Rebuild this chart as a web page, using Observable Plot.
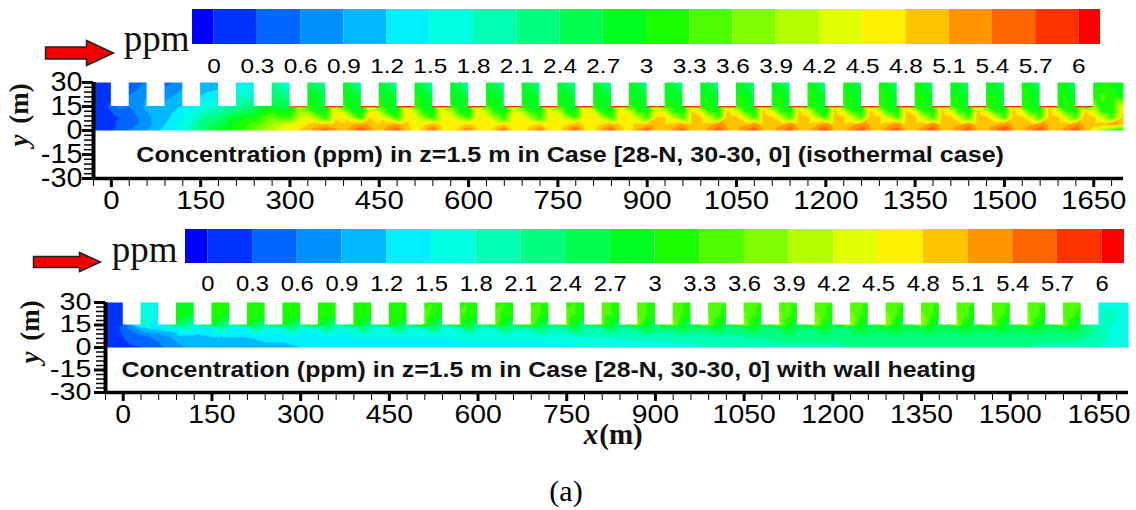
<!DOCTYPE html>
<html><head><meta charset="utf-8">
<script src="https://cdn.jsdelivr.net/npm/d3@7"></script>
<script src="https://cdn.jsdelivr.net/npm/@observablehq/plot@0.6"></script>
<style>
html,body{margin:0;padding:0;background:#fff}
#page{position:relative;width:1136px;height:510px;overflow:hidden}
#page svg{position:absolute;left:0;top:0;max-width:none}
#cap{position:absolute;left:0;width:1132px;top:474px;text-align:center;font:30px "Liberation Serif",serif}
</style></head><body><div id="page"><div id="cap">(a)</div></div>
<script>
// colour levels and band colours
const levels=[0,0.3,0.6,0.9,1.2,1.5,1.8,2.1,2.4,2.7,3,3.3,3.6,3.9,4.2,4.5,4.8,5.1,5.4,5.7,6];
const bandColors=["#0000ff","#0033ff","#0066ff","#0090ff","#00b8ff","#00f0ff","#00ffe0","#00ffb3","#00ff80","#00ff50","#00ff20","#19ff00","#4dff00","#80ff00","#b3ff00","#e0ff00","#fff000","#ffc400","#ff9500","#ff6600","#ff3300","#ff0000"];
const xMajor=[0,150,300,450,600,750,900,1050,1200,1350,1500,1650];
const yMajor=[-30,-15,0,15,30];
const streetStarts=d3.range(30,1620,60);
const buildingStarts=d3.range(0,1650,60);
// concentration along the building faces (x = 300 ... 1620), case 1
const wallValues=[5.5,5.7,5.8,5.8,5.8,5.8,5.8,5.8,5.8,5.8,5.8,5.8,5.8,5.8,5.8,5.8,5.8,5.8,5.8,5.8,5.8,5.8,5.8];

// Case 1 (isothermal): main-street rows, stations -30,-15,0,15,... ,1680,1700
const mainStations1=d3.range(-30,1690,15).concat(1700);
const iso_y0=[0,.1,.2,.5,
.6,.7,.9,1.1, 1.3,1.5,1.7,1.9, 2.3,2.5,2.7,2.9, 3.2,3.4,3.7,3.9, 4.2,4.4,4.6,4.8, 5.0,5.3,5.6,5.2, 4.9,5.3,5.7,5.2, 4.9,5.4,5.7,5.0, 4.6,5.0,5.5,4.8, 4.6,5.0,5.4,4.8, 4.5,5.1,5.5,4.7, 4.6,5.0,5.5,4.8, 4.6,5.1,5.6,4.8, 4.7,5.2,5.6,4.9, 4.7,5.2,5.6,4.9, 4.8,5.3,5.6,5.0, 4.9,5.3,5.7,5.1, 5.0,5.4,5.7,5.1, 5.0,5.3,5.7,5.1, 5.0,5.4,5.8,5.1, 5.0,5.4,5.7,5.1, 5.0,5.4,5.7,5.0, 5.0,5.4,5.8,5.1, 5.0,5.4,5.7,5.1, 5.0,5.4,5.8,5.1, 5.0,5.4,5.7,5.1, 5.0,5.4,5.7,5.0,
4.6,3.8,3.2,3.0];
const iso_y4=[0,.1,.2,.4,
.5,.6,.8,1.0, 1.2,1.4,1.6,1.8, 2.2,2.4,2.6,2.8, 3.0,3.2,3.4,3.7, 3.9,4.1,4.3,4.6, 4.8,4.9,5.0,4.9, 4.8,5.0,5.1,5.0, 4.8,5.0,5.1,4.9, 4.6,4.7,4.9,4.7, 4.5,4.6,4.8,4.6, 4.5,4.6,4.8,4.6, 4.5,4.7,4.8,4.6, 4.5,4.7,4.9,4.7, 4.6,4.8,5.0,4.8, 4.7,4.9,5.0,4.9, 4.8,4.9,5.1,4.9, 4.9,5.0,5.2,5.0, 4.9,5.0,5.2,5.0, 4.9,5.0,5.2,5.0, 4.9,5.0,5.2,5.0, 4.9,5.0,5.2,5.0, 4.9,5.0,5.2,5.0, 4.9,5.0,5.2,5.0, 4.9,5.0,5.2,5.0, 4.9,5.0,5.2,5.0, 4.9,5.0,5.2,5.0, 4.9,5.0,5.2,5.0, 4.9,5.0,5.2,5.0,
4.4,3.6,3.1,3.0];
const iso_y8=[0,.1,.2,.3,
.4,.6,.8,1.0, 1.1,1.3,1.5,1.7, 2.0,2.2,2.3,2.6, 2.8,3.0,3.0,3.4, 3.6,3.4,3.3,4.2, 4.4,3.8,3.2,4.7, 4.7,4.0,3.2,4.8, 4.7,4.0,3.2,4.7, 4.5,3.9,3.2,4.6, 4.5,3.9,3.2,4.6, 4.5,3.9,3.2,4.6, 4.5,3.9,3.2,4.6, 4.6,4.0,3.3,4.7, 4.7,4.0,3.3,4.8, 4.8,4.1,3.3,4.8, 4.8,4.1,3.3,4.9, 4.9,4.2,3.3,5.0, 4.9,4.2,3.3,5.0, 4.9,4.2,3.3,5.0, 4.9,4.2,3.3,5.0, 4.9,4.2,3.3,5.0, 4.9,4.2,3.3,5.0, 4.9,4.2,3.3,5.0, 4.9,4.2,3.3,5.0, 4.9,4.2,3.3,5.0, 4.9,4.2,3.3,5.0, 4.9,4.2,3.3,5.0, 4.9,4.2,3.3,5.0,
4.2,3.4,3.1,3.0];
const iso_y12=[0,.1,.3,.5,
.5,.7,.9,1.0, 1.0,1.2,1.4,1.6, 1.8,1.9,2.0,2.2, 2.4,2.5,2.6,3.0, 3.2,2.9,2.9,3.9, 3.8,3.0,2.9,4.6, 4.1,3.1,2.9,4.7, 4.1,3.1,3.0,4.7, 4.1,3.1,3.0,4.5, 4.1,3.1,3.0,4.5, 4.1,3.1,3.0,4.5, 4.1,3.1,3.0,4.5, 4.2,3.1,3.0,4.6, 4.3,3.1,3.0,4.7, 4.3,3.2,3.0,4.8, 4.3,3.2,3.0,4.8, 4.4,3.2,3.0,4.9, 4.4,3.2,3.0,4.9, 4.4,3.2,3.0,4.9, 4.4,3.2,3.0,4.9, 4.4,3.2,3.0,4.9, 4.4,3.2,3.0,4.9, 4.4,3.2,3.0,4.9, 4.4,3.2,3.0,4.9, 4.4,3.2,3.0,4.9, 4.4,3.2,3.0,4.9, 4.4,3.2,3.0,4.9, 4.4,3.2,3.0,4.8,
3.8,3.3,3.1,3.0];
const iso_y15=[0,.1,.5,.7,
.6,.8,1.0,1.0, 1.0,1.1,1.2,1.4, 1.6,1.7,1.8,2.0, 2.1,2.2,2.4,2.8, 2.8,2.6,2.6,3.8, 3.2,2.8,2.7,4.5, 3.3,2.9,2.7,4.7, 3.3,2.9,2.7,4.7, 3.3,2.9,2.7,4.7, 3.3,2.9,2.7,4.7, 3.3,2.9,2.8,4.7, 3.3,2.9,2.8,4.7, 3.3,2.9,2.8,4.7, 3.3,2.9,2.8,4.8, 3.3,2.9,2.9,4.8, 3.3,3.0,2.9,4.8, 3.3,3.0,2.9,4.8, 3.3,3.0,2.9,4.8, 3.3,3.0,2.9,4.8, 3.3,3.0,2.9,4.8, 3.3,3.0,2.9,4.8, 3.3,3.0,2.9,4.8, 3.3,3.0,2.9,4.8, 3.3,3.0,2.9,4.8, 3.3,3.0,2.9,4.8, 3.3,3.0,2.9,4.8,
3.3,3.2,3.1,3.0];
// Case 1: side-street rows, stations in the street openings only
const sideStations=[-30,-15,0,...streetStarts.flatMap(s=>[s,s+15,s+30]),1650,1665,1680,1700];
const iso_y22=[0,0,.1,
.6,.7,.9, .8,.9,1.1, 1.2,1.3,1.4, 1.7,1.8,1.9, 2.4,2.3,2.2, 2.9,2.8,2.5, 3.0,2.9,2.6, 3.0,2.9,2.6, 3.0,2.9,2.6, 3.0,2.9,2.6, 3.0,2.9,2.6, 3.0,2.9,2.6, 3.0,2.9,2.6, 3.0,2.9,2.6, 3.0,2.9,2.7, 3.0,2.9,2.7, 3.0,2.9,2.7, 3.0,3.0,2.7, 3.0,3.0,2.7, 3.0,3.0,2.7, 3.0,3.0,2.7, 3.0,3.0,2.7, 3.0,3.0,2.7, 3.0,3.0,2.7, 3.0,3.0,2.7, 3.0,3.0,2.7, 3.0,3.0,2.7,
3.1,3.4,3.1,2.9];
const iso_y30=[0,0,0,
.4,.5,.6, .5,.6,.7, .9,1.0,1.0, 1.4,1.5,1.3, 2.2,1.9,1.5, 2.7,2.3,1.8, 2.8,2.4,1.9, 2.8,2.4,1.9, 2.8,2.4,1.9, 2.8,2.4,1.9, 2.8,2.4,1.9, 2.8,2.4,2.0, 2.8,2.4,2.0, 2.8,2.5,2.0, 2.9,2.5,2.0, 2.9,2.5,2.1, 2.9,2.5,2.1, 2.9,2.6,2.1, 3.0,2.6,2.1, 3.0,2.6,2.2, 3.0,2.7,2.2, 3.0,2.7,2.2, 3.0,2.7,2.2, 3.0,2.7,2.2, 3.0,2.7,2.2, 3.0,2.7,2.2, 3.0,2.7,2.2,
2.9,3.0,3.0,2.8];

// Case 2 (wall heating): main-street rows every 30 m
const mainStations2=d3.range(-30,1680,30).concat(1700);
const heat_y0=[.1,.2,.3,.5,.8,1.0,1.0,1.0,1.1,1.1,1.1,1.2,1.3,1.3,1.3,1.3,1.3,1.3,1.4,1.4,1.4,1.4,1.4,1.4,1.4,1.4,1.4,1.5,1.5,1.5,1.6,1.6,1.7,1.7,1.8,1.8,1.8,1.9,2.0,2.0,2.0,2.0,2.1,2.1,2.1,2.1,2.1,2.1,2.1,2.1,2.1,2.1,2.1,2.0,2.0,1.9,1.8,1.6];
const heat_y7=[.1,.3,.5,.7,1.0,1.1,1.2,1.2,1.2,1.3,1.3,1.4,1.4,1.4,1.5,1.5,1.5,1.5,1.5,1.5,1.6,1.6,1.6,1.6,1.6,1.7,1.7,1.8,1.8,1.8,1.9,1.9,1.9,2.0,2.0,2.0,2.1,2.1,2.2,2.2,2.2,2.2,2.3,2.3,2.3,2.3,2.3,2.3,2.3,2.3,2.3,2.3,2.3,2.2,2.2,2.2,1.9,1.6];
const heat_y13=[.2,.5,1.1,1.3,1.4,1.4,1.5,1.5,1.5,1.6,1.6,1.6,1.6,1.6,1.6,1.7,1.7,1.7,1.7,1.7,1.8,1.8,1.8,1.9,2.0,2.0,2.0,2.0,2.1,2.1,2.2,2.2,2.3,2.3,2.3,2.3,2.4,2.4,2.4,2.4,2.4,2.4,2.4,2.5,2.5,2.5,2.5,2.5,2.5,2.5,2.5,2.5,2.5,2.5,2.5,2.4,2.0,1.6];
// Case 2: side-street rows
const heat_y15=[.1,.1,.3,
1.9,1.5,1.3, 2.6,2.2,1.9, 2.8,2.4,2.0, 3.0,2.5,2.2, 3.0,2.5,2.2, 3.1,2.5,2.2, 3.2,2.6,2.2, 3.3,2.6,2.2, 3.3,2.6,2.2, 3.4,2.7,2.3, 3.4,2.7,2.3, 3.5,2.7,2.3, 3.5,2.8,2.3, 3.6,2.8,2.4, 3.7,2.9,2.4, 3.7,2.9,2.4, 3.8,3.0,2.5, 3.9,3.0,2.5, 3.9,3.0,2.5, 3.9,3.0,2.5, 3.9,3.0,2.5, 3.9,3.0,2.5, 3.9,3.0,2.5, 3.9,3.0,2.5, 3.9,3.0,2.5, 3.9,3.0,2.5, 3.8,3.0,2.5,
1.7,1.9,1.6,1.5];
const heat_y22=[.1,.1,.1,
1.7,1.6,1.4, 3.1,2.9,2.7, 3.1,3.1,2.9, 3.3,3.2,3.0, 3.3,3.2,3.0, 3.3,3.2,3.0, 3.3,3.2,3.0, 3.3,3.2,3.0, 3.4,3.2,3.0, 3.4,3.2,3.0, 3.4,3.2,3.0, 3.5,3.3,3.0, 3.5,3.3,3.0, 3.5,3.3,3.0, 3.6,3.3,3.1, 3.6,3.3,3.1, 3.6,3.4,3.1, 3.7,3.4,3.1, 3.7,3.4,3.1, 3.7,3.4,3.1, 3.7,3.4,3.1, 3.7,3.4,3.1, 3.7,3.4,3.1, 3.7,3.4,3.1, 3.7,3.4,3.1, 3.7,3.4,3.1, 3.6,3.4,3.1,
1.6,2.0,1.8,1.5];
const heat_y30=[0,0,.1,
1.6,1.5,1.4, 2.9,2.9,2.8, 3.1,3.1,3.0, 3.2,3.3,3.2, 3.2,3.3,3.2, 3.2,3.3,3.2, 3.2,3.3,3.2, 3.2,3.3,3.2, 3.2,3.3,3.2, 3.2,3.3,3.2, 3.2,3.3,3.2, 3.2,3.3,3.2, 3.2,3.3,3.2, 3.3,3.3,3.2, 3.3,3.3,3.2, 3.3,3.3,3.2, 3.3,3.4,3.3, 3.3,3.4,3.3, 3.3,3.4,3.3, 3.3,3.4,3.3, 3.3,3.4,3.3, 3.3,3.4,3.3, 3.3,3.4,3.3, 3.3,3.4,3.3, 3.3,3.4,3.3, 3.3,3.4,3.3, 3.3,3.4,3.3,
1.6,1.6,1.5,1.5];

const caption1="Concentration (ppm) in z=1.5 m in Case [28-N, 30-30, 0] (isothermal case)";
const caption2="Concentration (ppm) in z=1.5 m in Case [28-N, 30-30, 0] with wall heating";

const SANS="Liberation Sans, Arial, sans-serif", SERIF="Liberation Serif, Times New Roman, serif";
const page=document.getElementById("page");
const rowsToPoints=(rows)=>rows.flatMap(([y,xs,vs])=>vs.map((v,i)=>({x:xs[i],y,v})));
const points1=rowsToPoints([[0,mainStations1,iso_y0],[4,mainStations1,iso_y4],[8,mainStations1,iso_y8],[12,mainStations1,iso_y12],[15,mainStations1,iso_y15],[22,sideStations,iso_y22],[30,sideStations,iso_y30]]);
const points2=rowsToPoints([[0,mainStations2,heat_y0],[7,mainStations2,heat_y7],[13,mainStations2,heat_y13],[15,sideStations,heat_y15],[22,sideStations,heat_y22],[30,sideStations,heat_y30]]);
const walls=wallValues.map((v,i)=>({x:buildingStarts[i+5],v}));

const bands=(lo,hi)=>{const e=[lo,...levels,hi];return bandColors.map((c,i)=>({a:e[i],b:e[i+1],c}));};
const arrow=(w,hs,hh,hl)=>({draw(c){const t=w/2,n=t-hl;c.moveTo(-t,-hs);c.lineTo(n,-hs);c.lineTo(n,-hh);c.lineTo(t,0);c.lineTo(n,hh);c.lineTo(n,hs);c.lineTo(-t,hs);c.closePath();}});
// widen the glyphs of a group of labels, as in the stretched original
const stretch=(svg,sel,f)=>svg.querySelectorAll(sel).forEach(t=>{const n=t.getComputedTextLength();if(n>0){t.setAttribute("textLength",n*f);t.setAttribute("lengthAdjust","spacingAndGlyphs");}});

function colorbar({left,right,top,bottom,lo,hi,tickPad,fontSize,labelStretch,ppmDx,ppmDy,arrowDx,arrowDy,arrowShape}){
  const svg=Plot.plot({
    width:1136,height:510,marginLeft:left,marginRight:1136-right,marginTop:top,marginBottom:510-bottom,
    style:{background:"transparent",overflow:"visible"},
    x:{domain:[lo,hi]},y:{axis:null},
    marks:[
      Plot.rectY(bands(lo,hi),{x1:"a",x2:"b",y1:0,y2:1,fill:"c"}),
      Plot.axisX(levels,{anchor:"bottom",tickSize:0,tickPadding:tickPad,tickFormat:String,fontSize,fontFamily:SANS,label:null}),
      Plot.text(["ppm"],{frameAnchor:"left",textAnchor:"end",dx:ppmDx,dy:ppmDy,fontSize:37,fontFamily:SERIF,fill:"#111"}),
      Plot.dot([0],{frameAnchor:"left",dx:arrowDx,dy:arrowDy,symbol:arrowShape,fill:"#f00000",stroke:"#222",strokeWidth:1.5})
    ]});
  page.append(svg);
  stretch(svg,'g[aria-label="x-axis tick label"] text',labelStretch);
}

function field({left,right,top,bottom,points,caption,capX,capStretch,labelDx,xTickPad,xFont,xStretch,yFont,yStretch,yPad,extra=[]}){
  const svg=Plot.plot({
    width:1136,height:510,marginLeft:left,marginRight:1136-right,marginTop:top,marginBottom:510-bottom,
    style:{background:"transparent",overflow:"visible"},
    x:{domain:[-30,1700]},y:{domain:[-30,30]},
    color:{type:"threshold",domain:levels,range:bandColors},
    marks:[
      Plot.raster(points,{x:"x",y:"y",fill:"v",interpolate:"barycentric",x1:-30,x2:1700,y1:0,y2:30,pixelSize:1}),
      Plot.rect(buildingStarts,{x1:d=>d,x2:d=>d+30,y1:15,y2:30,fill:"white"}),
      ...extra,
      Plot.text([caption],{x:capX,y:-15,textAnchor:"start",fontSize:22,fontWeight:"bold",fontFamily:SANS,fill:"#111",className:"cap"}),
      Plot.axisX(d3.range(-30,1700,30),{anchor:"bottom",tickSize:8,strokeWidth:1,tickFormat:()=>"",label:null}),
      Plot.axisX(xMajor,{anchor:"bottom",tickSize:9,strokeWidth:3,tickPadding:xTickPad,fontSize:xFont,fontFamily:SANS,tickFormat:String,label:null}),
      Plot.axisY(d3.range(-30,31,3),{anchor:"left",tickSize:9,strokeWidth:1.5,tickFormat:()=>"",label:null}),
      Plot.axisY(yMajor,{anchor:"left",tickSize:11,strokeWidth:3,tickPadding:yPad,fontSize:yFont,fontFamily:SANS,tickFormat:String,label:null}),
      Plot.ruleX([-30],{strokeWidth:4,stroke:"#000"}),
      Plot.ruleY([-30],{strokeWidth:3.5,stroke:"#000"}),
      Plot.text(["(m)"],{frameAnchor:"left",textAnchor:"middle",dx:labelDx,dy:-27,rotate:-90,fontSize:27,fontWeight:"bold",fontFamily:SERIF,fill:"#111"}),
      Plot.text(["y"],{frameAnchor:"left",textAnchor:"middle",dx:labelDx,dy:10,rotate:-90,fontSize:27,fontWeight:"bold",fontStyle:"italic",fontFamily:SERIF,fill:"#111"})
    ]});
  page.append(svg);
  stretch(svg,'g[aria-label="x-axis tick label"] text',xStretch);
  stretch(svg,'g[aria-label="y-axis tick label"] text',yStretch);
  stretch(svg,'.cap text',capStretch);
}

colorbar({left:192,right:1100,top:9,bottom:44,lo:-0.15,hi:6.15,tickPad:14,fontSize:21,labelStretch:1.16,ppmDx:-3,ppmDy:12,arrowDx:-113,arrowDy:26,arrowShape:arrow(68,6,12.5,27)});
field({left:93,right:1123,top:82,bottom:178,points:points1,caption:caption1,capX:42,capStretch:1.14,labelDx:-74,xTickPad:3,xFont:26,xStretch:1.13,yFont:28,yStretch:1.03,yPad:0,
  extra:[Plot.rect(walls,{x1:"x",x2:d=>d.x+30,y1:14.2,y2:15,fill:"v"})]});
colorbar({left:185,right:1124,top:229,bottom:263,lo:-0.15,hi:6.15,tickPad:12,fontSize:22,labelStretch:1.08,ppmDx:-8,ppmDy:4,arrowDx:-118.5,arrowDy:15.5,arrowShape:arrow(67,5.5,9.5,21)});
field({left:105,right:1128,top:302,bottom:392,points:points2,caption:caption2,capX:-3,capStretch:1.13,labelDx:-75,xTickPad:3,xFont:26,xStretch:1.09,yFont:23,yStretch:1.25,yPad:3});
page.append(Plot.plot({
  width:1136,height:510,marginLeft:105,marginRight:8,marginTop:302,marginBottom:118,
  style:{background:"transparent",overflow:"visible"},x:{axis:null},y:{axis:null},
  marks:[
    Plot.text(["(m)"],{frameAnchor:"bottom",dx:4,dy:51,fontSize:29,fontWeight:"bold",fontFamily:SERIF,fill:"#111"}),
    Plot.text(["x"],{frameAnchor:"bottom",dx:-26,dy:51,fontSize:29,fontWeight:"bold",fontStyle:"italic",fontFamily:SERIF,fill:"#111"})
  ]}));
</script></body></html>
